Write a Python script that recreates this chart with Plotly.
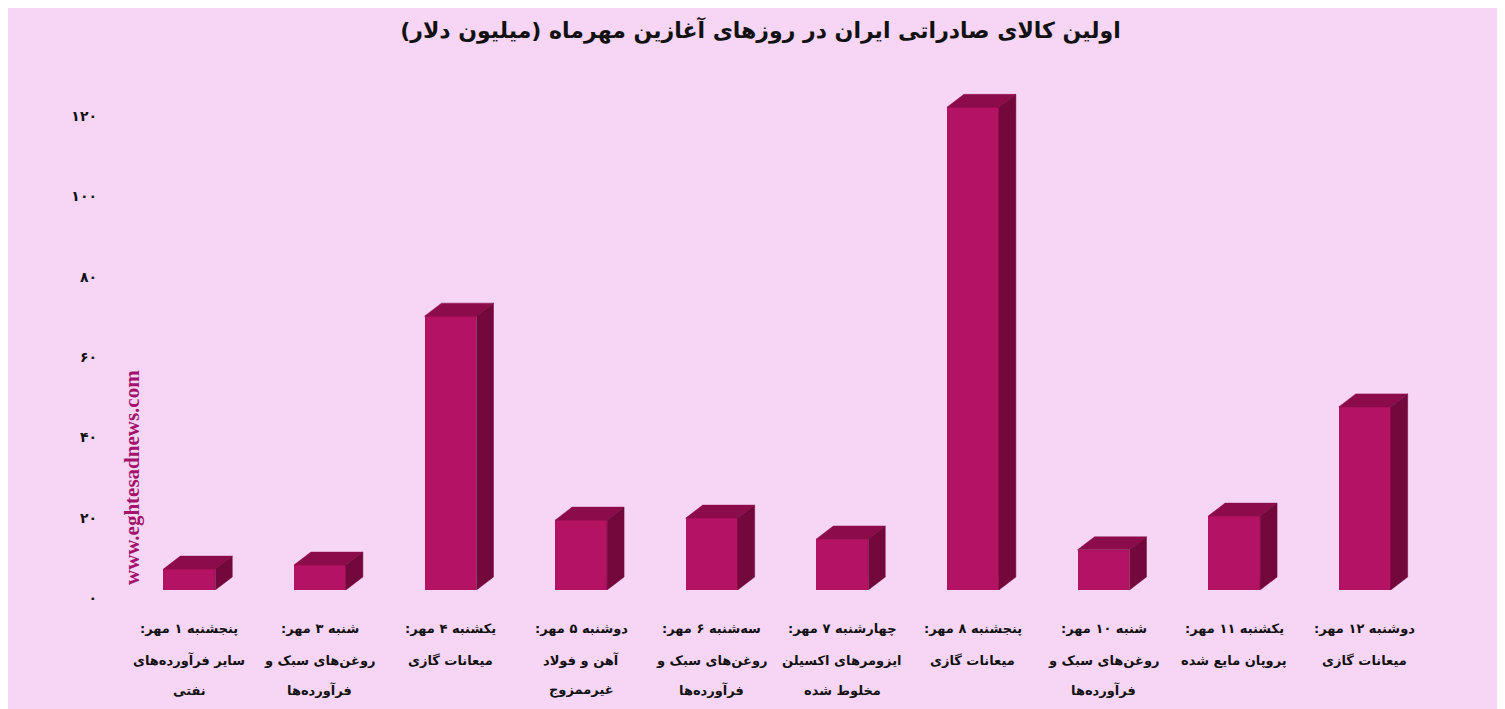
import plotly.graph_objects as go

# ---- data ----
title_text = "اولین کالای صادراتی ایران در روزهای آغازین مهرماه (میلیون دلار)"
label_lines = [
    ["پنجشنبه ۱ مهر:", "سایر فرآورده\u200cهای", "نفتی"],
    ["شنبه ۳ مهر:", "روغن\u200cهای سبک و", "فرآورده\u200cها"],
    ["یکشنبه ۴ مهر:", "میعانات گازی"],
    ["دوشنبه ۵ مهر:", "آهن و فولاد", "غیرممزوج"],
    ["سه\u200cشنبه ۶ مهر:", "روغن\u200cهای سبک و", "فرآورده\u200cها"],
    ["چهارشنبه ۷ مهر:", "ایزومرهای اکسیلن", "مخلوط شده"],
    ["پنجشنبه ۸ مهر:", "میعانات گازی"],
    ["شنبه ۱۰ مهر:", "روغن\u200cهای سبک و", "فرآورده\u200cها"],
    ["یکشنبه ۱۱ مهر:", "پروپان مایع شده"],
    ["دوشنبه ۱۲ مهر:", "میعانات گازی"],
]
values = [5.2, 6.2, 68.2, 17.4, 17.9, 12.7, 120.2, 10.0, 18.4, 45.6]
tick_vals = [0, 20, 40, 60, 80, 100, 120]
tick_text = ["۰", "۲۰", "۴۰", "۶۰", "۸۰", "۱۰۰", "۱۲۰"]
watermark = "www.eghtesadnews.com"

# ---- style ----
BG = "#F7D6F5"
FRONT = "#B41262"
TOP = "#8C0C4B"
SIDE = "#73083C"
W = 0.398      # bar width (x units)
DX = 0.13      # depth offset in x units
DY = 3.24      # depth offset in value units
FONT = "DejaVu Sans"
RLM = "\u200f"

xs = list(range(len(values)))

fig = go.Figure()
fig.add_trace(go.Bar(x=xs, y=values, width=W, marker=dict(color=FRONT, line=dict(width=0)),
                     hoverinfo="skip", showlegend=False))

for x, v in zip(xs, values):
    l, r = x - W / 2, x + W / 2
    fig.add_trace(go.Scatter(
        x=[l, l + DX, r + DX, r, l], y=[v, v + DY, v + DY, v, v],
        mode="lines", fill="toself", fillcolor=TOP, line=dict(color=TOP, width=0.5),
        hoverinfo="skip", showlegend=False))
    fig.add_trace(go.Scatter(
        x=[r, r, r + DX, r + DX, r], y=[0, v, v + DY, DY, 0],
        mode="lines", fill="toself", fillcolor=SIDE, line=dict(color=SIDE, width=0.5),
        hoverinfo="skip", showlegend=False))

# category labels below the bars
shifts = [-38, -70, -100]
for x, lines in zip(xs, label_lines):
    for k, line in enumerate(lines):
        fig.add_annotation(x=x, xref="x", y=0, yref="paper", yanchor="middle",
                           yshift=shifts[k], text="<b>" + RLM + line + RLM + "</b>",
                           showarrow=False,
                           font=dict(family=FONT, size=13, color="#111111"))

fig.add_annotation(x=0, xref="paper", xanchor="center", xshift=8, y=0.2146, yref="paper",
                   yanchor="middle",
                   text="<b>" + watermark + "</b>", textangle=-90, showarrow=False,
                   font=dict(family="Liberation Serif", size=21, color="#A3126B"))

fig.update_layout(
    width=1505, height=709,
    paper_bgcolor=BG, plot_bgcolor=BG,
    margin=dict(l=116, r=83, t=60, b=127),
    title=dict(text="<b>" + title_text + "</b>", x=0.5, xanchor="center",
               y=0.969, yanchor="middle",
               font=dict(family=FONT, size=22, color="#111111")),
    xaxis=dict(range=[-0.5, 9.5], showgrid=False, zeroline=False, showline=False,
               showticklabels=False, ticks=""),
    yaxis=dict(range=[0, 130], showgrid=False, zeroline=False, showline=False,
               tickvals=tick_vals, ticktext=["<b>" + t + "</b>" for t in tick_text],
               ticks="", ticklabelshift=8, ticklabelstandoff=26,
               tickfont=dict(family=FONT, size=14, color="#111111")),
    bargap=0,
)

fig.write_html("out.html")
